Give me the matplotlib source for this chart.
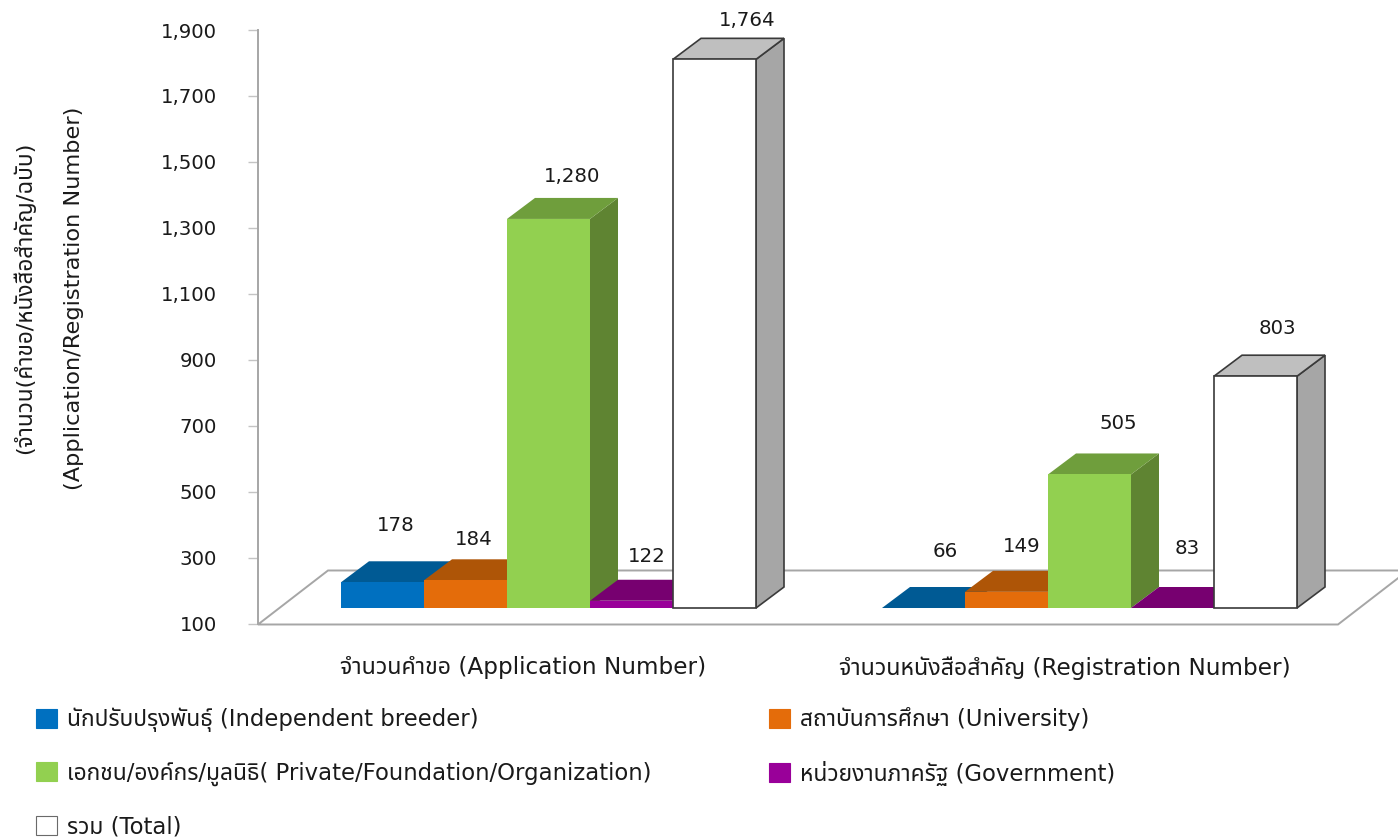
import matplotlib
matplotlib.use('Agg')
import matplotlib.pyplot as plt
from matplotlib.patches import Polygon, Patch
from matplotlib.ticker import FuncFormatter
import logging
logging.getLogger('matplotlib.font_manager').setLevel(logging.ERROR)

plt.rcParams['font.family'] = ['DejaVu Sans', 'Noto Sans Thai', 'Sarabun', 'Anuphan']

categories = ['จำนวนคำขอ (Application Number)', 'จำนวนหนังสือสำคัญ (Registration Number)']
series_names = ['นักปรับปรุงพันธุ์ (Independent breeder)',
                'สถาบันการศึกษา (University)',
                'เอกชน/องค์กร/มูลนิธิ( Private/Foundation/Organization)',
                'หน่วยงานภาครัฐ (Government)',
                'รวม (Total)']
breeder = [178, 66]
university = [184, 149]
private = [1280, 505]
government = [122, 83]
total = [1764, 803]
y_ticks = [100, 300, 500, 700, 900, 1100, 1300, 1500, 1700, 1900]

series = [breeder, university, private, government, total]
front = ['#0070C0', '#E46C0A', '#92D050', '#990099', '#FFFFFF']
top = ['#005A94', '#AE5507', '#6F9E3C', '#770070', '#BFBFBF']
side = ['#004F80', '#8F4606', '#5F8432', '#5F005A', '#A6A6A6']
edge = [None, None, None, None, '#3A3A3A']
# label offsets from the top-back edge centre, in pixels
label_off = [[(-14.5, 36), (-6.5, 36)], [(-19.5, 20), (-12.5, 24)], [(-4.5, 21), (0.5, 29.6)],
             [(-12.5, 23), (-13.5, 39)], [(4.5, 18), (-6.5, 27)]]

W, H = 1398, 839
fig = plt.figure(figsize=(W / 100, H / 100), dpi=100)
L, R, T, B = 257.5, 1398, 30, 623.5
ax = fig.add_axes([L / W, 1 - B / H, (R - L) / W, (B - T) / H])

PITCH = 541.0                     # px per category
def px(p):                        # pixel x -> data x, slot 0 at pixel 523.5
    return (p - 523.5) / PITCH
ax.set_xlim(px(L), px(R))
ax.set_ylim(100, 1900)
UNIT = (B - T) / 1800.0

bar_w = 83 / PITCH
shift = 25 / PITCH
dx, dy = 28 / PITCH, 21 / UNIT
base = 147.0

# floor
fx, fy = 70 / PITCH, 54 / UNIT
x0, x1 = px(258), px(1338)
y0 = 97
ax.add_patch(Polygon([(x0, y0), (x0 + fx, y0 + fy), (x1 + fx, y0 + fy), (x1, y0)],
                     closed=True, fc='white', ec='#A6A6A6', lw=1.4, zorder=1, clip_on=False))

z = 2
for g in range(len(categories)):
    for s, vals in enumerate(series):
        v = vals[g]
        h = max(v - 100, 0)
        xc = g + shift + (s - 2) * bar_w
        xl, xr = xc - bar_w / 2, xc + bar_w / 2
        yb, yt = base, base + h
        e = edge[s]
        lw = 1.2 if e else 0
        ec = e if e else 'none'
        ax.add_patch(Polygon([(xr, yb), (xr + dx, yb + dy), (xr + dx, yt + dy), (xr, yt)],
                             closed=True, fc=side[s], ec=ec, lw=lw, zorder=z, clip_on=False))
        ax.add_patch(Polygon([(xl, yt), (xl + dx, yt + dy), (xr + dx, yt + dy), (xr, yt)],
                             closed=True, fc=top[s], ec=ec, lw=lw, zorder=z, clip_on=False))
        if h > 0:
            ax.bar(xc, h, width=bar_w, bottom=yb, color=front[s], edgecolor=ec, linewidth=lw,
                   zorder=z, clip_on=False)
        z += 1
        ox, oy = label_off[s][g]
        ax.annotate(f'{v:,}', (xc + dx, yt + dy), xytext=(ox * 0.72, oy * 0.72),
                    textcoords='offset points', ha='center', va='center',
                    fontsize=14.2, color='#1A1A1A', zorder=50, annotation_clip=False)

for sp in ('top', 'right', 'bottom'):
    ax.spines[sp].set_visible(False)
ax.spines['left'].set_color('#A6A6A6')
ax.spines['left'].set_linewidth(1.4)
ax.set_yticks(y_ticks)
ax.yaxis.set_major_formatter(FuncFormatter(lambda v, _: f'{int(v):,}'))
ax.tick_params(axis='y', length=7.2, width=1, color='#C4C4C4', pad=22, labelsize=14.2, labelcolor='#1A1A1A')
ax.set_xticks([0, 1])
ax.set_xticklabels(categories)
ax.tick_params(axis='x', length=0, pad=23.5, labelsize=16.7, labelcolor='#1A1A1A')

ax.set_ylabel('(จำนวน(คำขอ/หนังสือสำคัญ/ฉบับ)\n(Application/Registration Number)',
              fontsize=16.2, color='#1A1A1A', linespacing=2.8, ha='center', va='center')
ax.yaxis.set_label_coords((48 - L) / (R - L), (B - 298) / (B - T))

order = [0, 2, 4, 1, 3]
handles = [Patch(fc=front[i], ec='#6A6A6A' if i == 4 else front[i], lw=0.8) for i in order]
leg = ax.legend(handles, [series_names[i] for i in order], ncol=2, frameon=False, fontsize=16.4,
                loc='upper left', bbox_to_anchor=(36 / W, 1 - 707 / H), bbox_transform=fig.transFigure,
                borderaxespad=0, borderpad=0, handlelength=0.92, handleheight=0.9,
                handletextpad=0.44, labelspacing=1.3, columnspacing=5.15, labelcolor='#1A1A1A')

fig.savefig('out.png', dpi=100)
